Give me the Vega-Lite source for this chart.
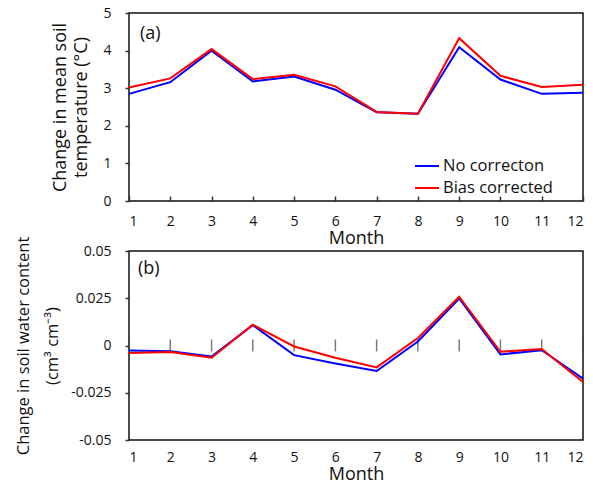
{
  "$schema": "https://vega.github.io/schema/vega-lite/v6.json",
  "padding": {"left": 15, "top": 5, "right": 0, "bottom": 0},
  "spacing": 50,
  "bounds": "flush",
  "config": {
    "font": "Open Sans",
    "view": {"stroke": "#111", "strokeWidth": 1.5},
    "axis": {"grid": false, "domain": false, "labelFontSize": 14, "labelColor": "#111", "titleColor": "#111", "titleFontSize": 16, "titleFontWeight": "normal", "tickColor": "#333", "tickWidth": 1.5}
  },
  "datasets": {
    "d": [
      {"month": 1, "series": "No correcton", "temp": 2.85, "swc": -0.0026},
      {"month": 2, "series": "No correcton", "temp": 3.16, "swc": -0.003},
      {"month": 3, "series": "No correcton", "temp": 4.0, "swc": -0.0058},
      {"month": 4, "series": "No correcton", "temp": 3.18, "swc": 0.0108},
      {"month": 5, "series": "No correcton", "temp": 3.31, "swc": -0.0051},
      {"month": 6, "series": "No correcton", "temp": 2.96, "swc": -0.0095},
      {"month": 7, "series": "No correcton", "temp": 2.36, "swc": -0.0135},
      {"month": 8, "series": "No correcton", "temp": 2.32, "swc": 0.0021},
      {"month": 9, "series": "No correcton", "temp": 4.09, "swc": 0.0249},
      {"month": 10, "series": "No correcton", "temp": 3.23, "swc": -0.0047},
      {"month": 11, "series": "No correcton", "temp": 2.85, "swc": -0.0025},
      {"month": 12, "series": "No correcton", "temp": 2.88, "swc": -0.0175},
      {"month": 1, "series": "Bias corrected", "temp": 3.02, "swc": -0.004},
      {"month": 2, "series": "Bias corrected", "temp": 3.26, "swc": -0.0035},
      {"month": 3, "series": "Bias corrected", "temp": 4.04, "swc": -0.0065},
      {"month": 4, "series": "Bias corrected", "temp": 3.24, "swc": 0.011},
      {"month": 5, "series": "Bias corrected", "temp": 3.36, "swc": -0.0005},
      {"month": 6, "series": "Bias corrected", "temp": 3.05, "swc": -0.0065},
      {"month": 7, "series": "Bias corrected", "temp": 2.37, "swc": -0.0116},
      {"month": 8, "series": "Bias corrected", "temp": 2.32, "swc": 0.004},
      {"month": 9, "series": "Bias corrected", "temp": 4.33, "swc": 0.0258},
      {"month": 10, "series": "Bias corrected", "temp": 3.33, "swc": -0.0033},
      {"month": 11, "series": "Bias corrected", "temp": 3.03, "swc": -0.0019},
      {"month": 12, "series": "Bias corrected", "temp": 3.09, "swc": -0.0193}
    ],
    "months": [
      {"month": 1}, {"month": 2}, {"month": 3}, {"month": 4}, {"month": 5}, {"month": 6},
      {"month": 7}, {"month": 8}, {"month": 9}, {"month": 10}, {"month": 11}, {"month": 12}
    ]
  },
  "resolve": {"legend": {"color": "independent"}},
  "vconcat": [
    {
      "width": 454,
      "height": 188,
      "layer": [
        {
          "data": {"name": "d"},
          "mark": {"type": "line", "strokeWidth": 2},
          "encoding": {
            "x": {"field": "month", "type": "quantitative", "scale": {"domain": [1, 12], "nice": false, "zero": false},
                  "axis": {"values": [1,2,3,4,5,6,7,8,9,10,11,12], "tickSize": -5, "labelPadding": 18, "title": "Month", "titleFontSize": 18, "titlePadding": 1}},
            "y": {"field": "temp", "type": "quantitative", "scale": {"domain": [0, 5], "nice": false},
                  "axis": {"values": [0,1,2,3,4,5], "tickSize": 4, "labelPadding": 14, "title": ["Change in mean soil", "temperature (°C)"], "titleFontSize": 18, "titlePadding": 12, "titleLineHeight": 21}},
            "color": {"field": "series", "type": "nominal",
                      "scale": {"domain": ["No correcton", "Bias corrected"], "range": ["#0000ff", "#ff0000"]},
                      "legend": {"orient": "none", "legendX": 285, "legendY": 140, "title": null, "symbolType": "stroke", "symbolSize": 576, "symbolStrokeWidth": 2, "labelFontSize": 16.5, "labelColor": "#111", "rowPadding": 0, "labelOffset": 3}}
          }
        },
        {
          "data": {"values": [{"label": "(a)"}]},
          "mark": {"type": "text", "fontSize": 18, "align": "left", "baseline": "middle", "dx": 11, "dy": 21, "color": "#111"},
          "encoding": {
            "x": {"datum": 1, "type": "quantitative", "scale": {"domain": [1, 12], "nice": false, "zero": false},
                  "axis": {"values": [1,2,3,4,5,6,7,8,9,10,11,12], "tickSize": -5, "labelPadding": 18, "title": "Month", "titleFontSize": 18, "titlePadding": 1}},
            "y": {"datum": 5, "type": "quantitative", "scale": {"domain": [0, 5], "nice": false},
                  "axis": {"values": [0,1,2,3,4,5], "tickSize": 4, "labelPadding": 14, "title": ["Change in mean soil", "temperature (°C)"], "titleFontSize": 18, "titlePadding": 12, "titleLineHeight": 21}},
            "text": {"field": "label"}
          }
        }
      ]
    },
    {
      "width": 454,
      "height": 189,
      "layer": [
        {
          "mark": {"type": "rule", "color": "#808080", "strokeWidth": 1.5},
          "encoding": {"y": {"datum": 0, "type": "quantitative", "scale": {"domain": [-0.05, 0.05], "nice": false},
                  "axis": {"values": [-0.05, -0.025, 0, 0.025, 0.05], "labelExpr": "'' + datum.value", "tickSize": 4, "labelPadding": 14, "title": ["Change in soil water content", "(cm³ cm⁻³)"], "titleFontSize": 16.5, "titlePadding": 10, "titleLineHeight": 29}}}
        },
        {
          "data": {"name": "months"},
          "mark": {"type": "tick", "orient": "vertical", "size": 12, "thickness": 1.5, "color": "#444"},
          "encoding": {
            "x": {"field": "month", "type": "quantitative", "scale": {"domain": [1, 12], "nice": false, "zero": false},
                  "axis": {"values": [1,2,3,4,5,6,7,8,9,10,11,12], "ticks": false, "labelPadding": 10, "title": "Month", "titleFontSize": 18, "titlePadding": 1}},
            "y": {"datum": 0, "type": "quantitative", "scale": {"domain": [-0.05, 0.05], "nice": false},
                  "axis": {"values": [-0.05, -0.025, 0, 0.025, 0.05], "labelExpr": "'' + datum.value", "tickSize": 4, "labelPadding": 14, "title": ["Change in soil water content", "(cm³ cm⁻³)"], "titleFontSize": 16.5, "titlePadding": 10, "titleLineHeight": 29}}
          }
        },
        {
          "data": {"name": "d"},
          "mark": {"type": "line", "strokeWidth": 2},
          "encoding": {
            "x": {"field": "month", "type": "quantitative", "scale": {"domain": [1, 12], "nice": false, "zero": false},
                  "axis": {"values": [1,2,3,4,5,6,7,8,9,10,11,12], "ticks": false, "labelPadding": 10, "title": "Month", "titleFontSize": 18, "titlePadding": 1}},
            "y": {"field": "swc", "type": "quantitative", "scale": {"domain": [-0.05, 0.05], "nice": false},
                  "axis": {"values": [-0.05, -0.025, 0, 0.025, 0.05], "labelExpr": "'' + datum.value", "tickSize": 4, "labelPadding": 14, "title": ["Change in soil water content", "(cm³ cm⁻³)"], "titleFontSize": 16.5, "titlePadding": 10, "titleLineHeight": 29}},
            "color": {"field": "series", "type": "nominal",
                      "scale": {"domain": ["No correcton", "Bias corrected"], "range": ["#0000ff", "#ff0000"]},
                      "legend": null}
          }
        },
        {
          "data": {"values": [{"label": "(b)"}]},
          "mark": {"type": "text", "fontSize": 18, "align": "left", "baseline": "middle", "dx": 9, "dy": 18, "color": "#111"},
          "encoding": {
            "x": {"datum": 1, "type": "quantitative", "scale": {"domain": [1, 12], "nice": false, "zero": false},
                  "axis": {"values": [1,2,3,4,5,6,7,8,9,10,11,12], "ticks": false, "labelPadding": 10, "title": "Month", "titleFontSize": 18, "titlePadding": 1}},
            "y": {"datum": 0.05, "type": "quantitative", "scale": {"domain": [-0.05, 0.05], "nice": false},
                  "axis": {"values": [-0.05, -0.025, 0, 0.025, 0.05], "labelExpr": "'' + datum.value", "tickSize": 4, "labelPadding": 14, "title": ["Change in soil water content", "(cm³ cm⁻³)"], "titleFontSize": 16.5, "titlePadding": 10, "titleLineHeight": 29}},
            "text": {"field": "label"}
          }
        }
      ]
    }
  ]
}
